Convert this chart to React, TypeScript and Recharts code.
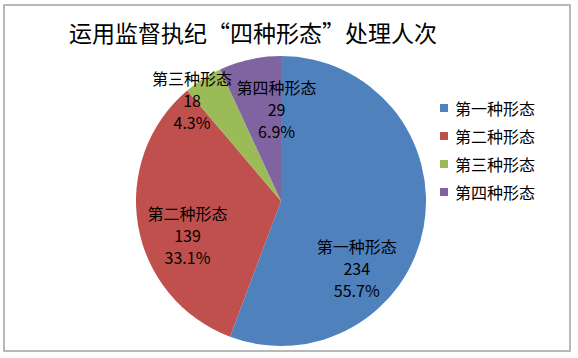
import React from 'react';
import { PieChart, Pie, Cell, Legend } from 'recharts';

const categories = ['第一种形态', '第二种形态', '第三种形态', '第四种形态'];
const values = [234, 139, 18, 29];
const percents = ['55.7%', '33.1%', '4.3%', '6.9%'];
const colors = ['#4F81BD', '#C0504D', '#9BBB59', '#8064A2'];
const title = '运用监督执纪“四种形态”处理人次';

const data = categories.map((name, i) => ({ name, value: values[i], pct: percents[i] }));

const FONT = '"Noto Sans CJK SC", "Noto Sans", sans-serif';
const labelRadius = [80, 100, 130, 95];
const labelNudge = [[-3, 55], [5, 19], [-19, 11], [16, 3]];

const RAD = Math.PI / 180;
const renderLabel = (props: any) => {
  const { cx, cy, midAngle, index } = props;
  const r = labelRadius[index];
  const x = cx + r * Math.cos(-midAngle * RAD) + labelNudge[index][0];
  const y = cy + r * Math.sin(-midAngle * RAD) + labelNudge[index][1];
  const d = data[index];
  return (
    <text x={x} y={y} textAnchor="middle" fontSize={16} fill="#000" fontFamily={FONT}>
      <tspan x={x} dy={-17}>{d.name}</tspan>
      <tspan x={x} dy={22}>{d.value}</tspan>
      <tspan x={x} dy={22}>{d.pct}</tspan>
    </text>
  );
};

const renderLegend = () => (
  <div style={{ fontFamily: FONT, fontSize: 16, color: '#000' }}>
    {data.map((d, i) => (
      <div key={d.name} style={{ display: 'flex', alignItems: 'center', height: 28 }}>
        <span style={{ width: 8, height: 8, background: colors[i], display: 'inline-block', marginRight: 7 }} />
        <span>{d.name}</span>
      </div>
    ))}
  </div>
);

export default function App() {
  return (
    <div style={{ position: 'absolute', left: 0, top: 0, width: 578, height: 358, background: '#fff' }}>
      <div style={{ position: 'absolute', left: 3, top: 4, width: 568, height: 348, border: '2px solid #b8b8b8', boxSizing: 'border-box' }} />
      <div style={{ position: 'absolute', left: 0, top: 14, width: 506, textAlign: 'center', fontFamily: FONT, fontSize: 23, color: '#000', lineHeight: '36px' }}>
        {title}
      </div>
      <div style={{ position: 'absolute', left: 0, top: 0 }}>
        <PieChart width={578} height={358} margin={{ top: 0, right: 0, bottom: 0, left: 0 }}>
          <Pie
            data={data}
            dataKey="value"
            nameKey="name"
            cx={281}
            cy={201}
            outerRadius={145}
            startAngle={90}
            endAngle={-270}
            stroke="none"
            label={renderLabel}
            labelLine={false}
            isAnimationActive={false}
          >
            {data.map((d, i) => (
              <Cell key={d.name} fill={colors[i]} />
            ))}
          </Pie>
          <Legend content={renderLegend} wrapperStyle={{ left: 440, top: 94, width: 130 }} />
        </PieChart>
      </div>
    </div>
  );
}
